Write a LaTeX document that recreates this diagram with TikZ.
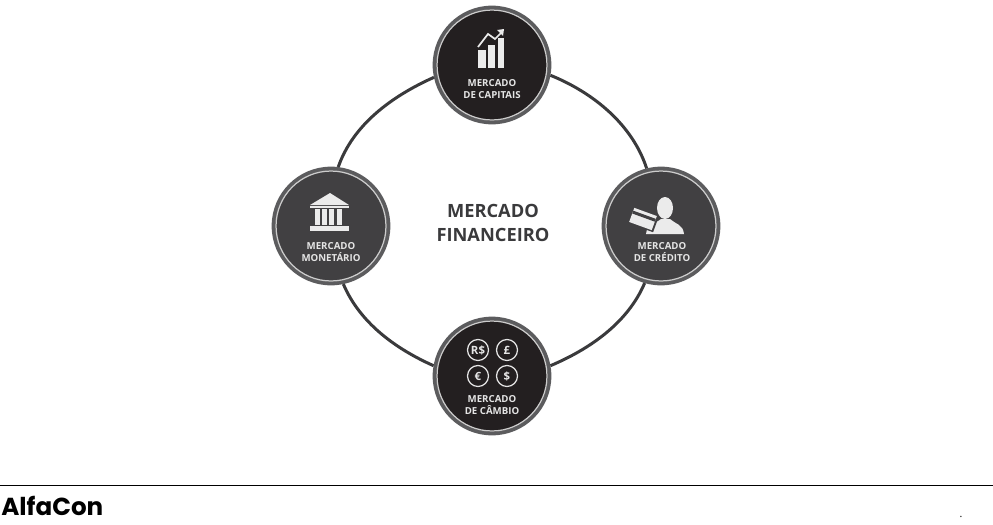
\documentclass[tikz,border=0pt]{standalone}
\usepackage{fontspec}
\setmainfont{Open Sans}
\newfontfamily\logofont{Poppins}

\begin{document}
\begin{tikzpicture}[x=0.02cm,y=-0.02cm]
    % Setup the styles for the markets
        \definecolor{darkfill}{HTML}{231F20}
        \definecolor{softfill}{HTML}{414042}
        \definecolor{linkgray}{HTML}{3A3A3C}
        \definecolor{bandgray}{HTML}{5C5C5E}
        \tikzset{market style/.style={circle,
                                      minimum size=2.3cm,
                                      inner sep=0pt,
                                      line width=0.75mm,
                                      draw=bandgray},
                 ring style/.style={circle,
                                    minimum size=2.2cm,
                                    inner sep=0pt,
                                    line width=0.25mm,
                                    draw=white!80!black},
                 label style/.style={align=center,
                                     text=white!90!black,
                                     font=\bfseries\fontsize{5.5}{7.2}\selectfont},
                 coin style/.style={circle,
                                    minimum size=0.42cm,
                                    inner sep=0pt,
                                    line width=0.25mm,
                                    draw=white!90!black,
                                    text=white!90!black,
                                    font=\bfseries\fontsize{6.5}{6.5}\selectfont},
                 icon style/.style={fill=white!92!black,draw=none}}
        \useasboundingbox (0,0) rectangle (993,524);
        % Draw the markets
        \node[market style,fill=darkfill] at (492,65)  (mkt_top)    {};
        \node[market style,fill=softfill] at (331,226) (mkt_left)   {};
        \node[market style,fill=softfill] at (661,226) (mkt_right)  {};
        \node[market style,fill=darkfill] at (492,376) (mkt_bottom) {};
        \node[ring style] at (mkt_top)    (ring_top)    {};
        \node[ring style] at (mkt_left)   (ring_left)   {};
        \node[ring style] at (mkt_right)  (ring_right)  {};
        \node[ring style] at (mkt_bottom) (ring_bottom) {};
        % Connect the markets with arcs
        \draw[line width=0.6mm,
              draw=linkgray,
              looseness=0.88]
        (mkt_top.-10) edge[out=-22,in=108] (mkt_right.104)
        (mkt_right.-106) edge[out=-113,in=23] (mkt_bottom.10)
        (mkt_bottom.170) edge[out=156,in=-67] (mkt_left.-78)
        (mkt_left.83) edge[out=71,in=204] (mkt_top.192);
        % Texts
        \node[align=center,text=linkgray,font=\bfseries\fontsize{10.4}{13.5}\selectfont] at (493,223) (center_text) {MERCADO\\FINANCEIRO};
        \node[label style] at (492,89)  (label_top)    {MERCADO\\DE CAPITAIS};
        \node[label style] at (331,252) (label_left)   {MERCADO\\MONETÁRIO};
        \node[label style] at (662,252) (label_right)  {MERCADO\\DE CRÉDITO};
        \node[label style] at (492,405) (label_bottom) {MERCADO\\DE CÂMBIO};
        % Chart icon
        \fill[icon style] (478,50) rectangle (486,68);
        \fill[icon style] (488,45) rectangle (495,68);
        \fill[icon style] (498,38) rectangle (504,68);
        \draw[white!92!black,line width=0.35mm] (478,47) -- (488,34) -- (495,39) -- (502,32);
        \fill[icon style] (504,29) -- (497,30) -- (503,36) -- cycle;
        % Bank icon
        \fill[icon style] (310,205) -- (330,193) -- (349,205) -- cycle;
        \fill[icon style] (310,206) rectangle (349,208);
        \foreach \colx in {315,322,329,337}
            \fill[icon style] (\colx,209) rectangle ++(5,16);
        \fill[icon style] (310,226) rectangle (349,231);
        % Credit icon
        \fill[icon style] (665,208) ellipse (8 and 11);
        \fill[icon style] (646,234) .. controls (647,224) and (655,224) .. (661,219)
            -- (670,219) .. controls (675,224) and (683,224) .. (684,234) -- cycle;
        \begin{scope}[shift={(643,219)},rotate=-20]
            \fill[softfill] (-14,-9) rectangle (14,9);
            \fill[icon style] (-12,-7.5) rectangle (12,7.5);
            \fill[softfill] (-12,-4.5) rectangle (12,-1.5);
        \end{scope}
        % Exchange icon
        \node[coin style] at (478,350) (coin_real)   {R\$};
        \node[coin style] at (507,350) (coin_pound)  {£};
        \node[coin style] at (478,376) (coin_euro)   {€};
        \node[coin style] at (507,376) (coin_dollar) {\$};
        % Footer
        \coordinate (rule_start) at (0,485);
        \coordinate (rule_end) at (993,485);
        \draw[line width=0.2mm,black] (rule_start) -- (rule_end);
        \node[anchor=west,inner sep=0pt,font=\logofont\bfseries\fontsize{14}{14}\selectfont] at (1,506) (logo) {AlfaCon};
        \node[inner sep=0pt,font=\fontsize{6}{6}\selectfont] at (961,517) (dot_mark) {.};
\end{tikzpicture}
\end{document}
